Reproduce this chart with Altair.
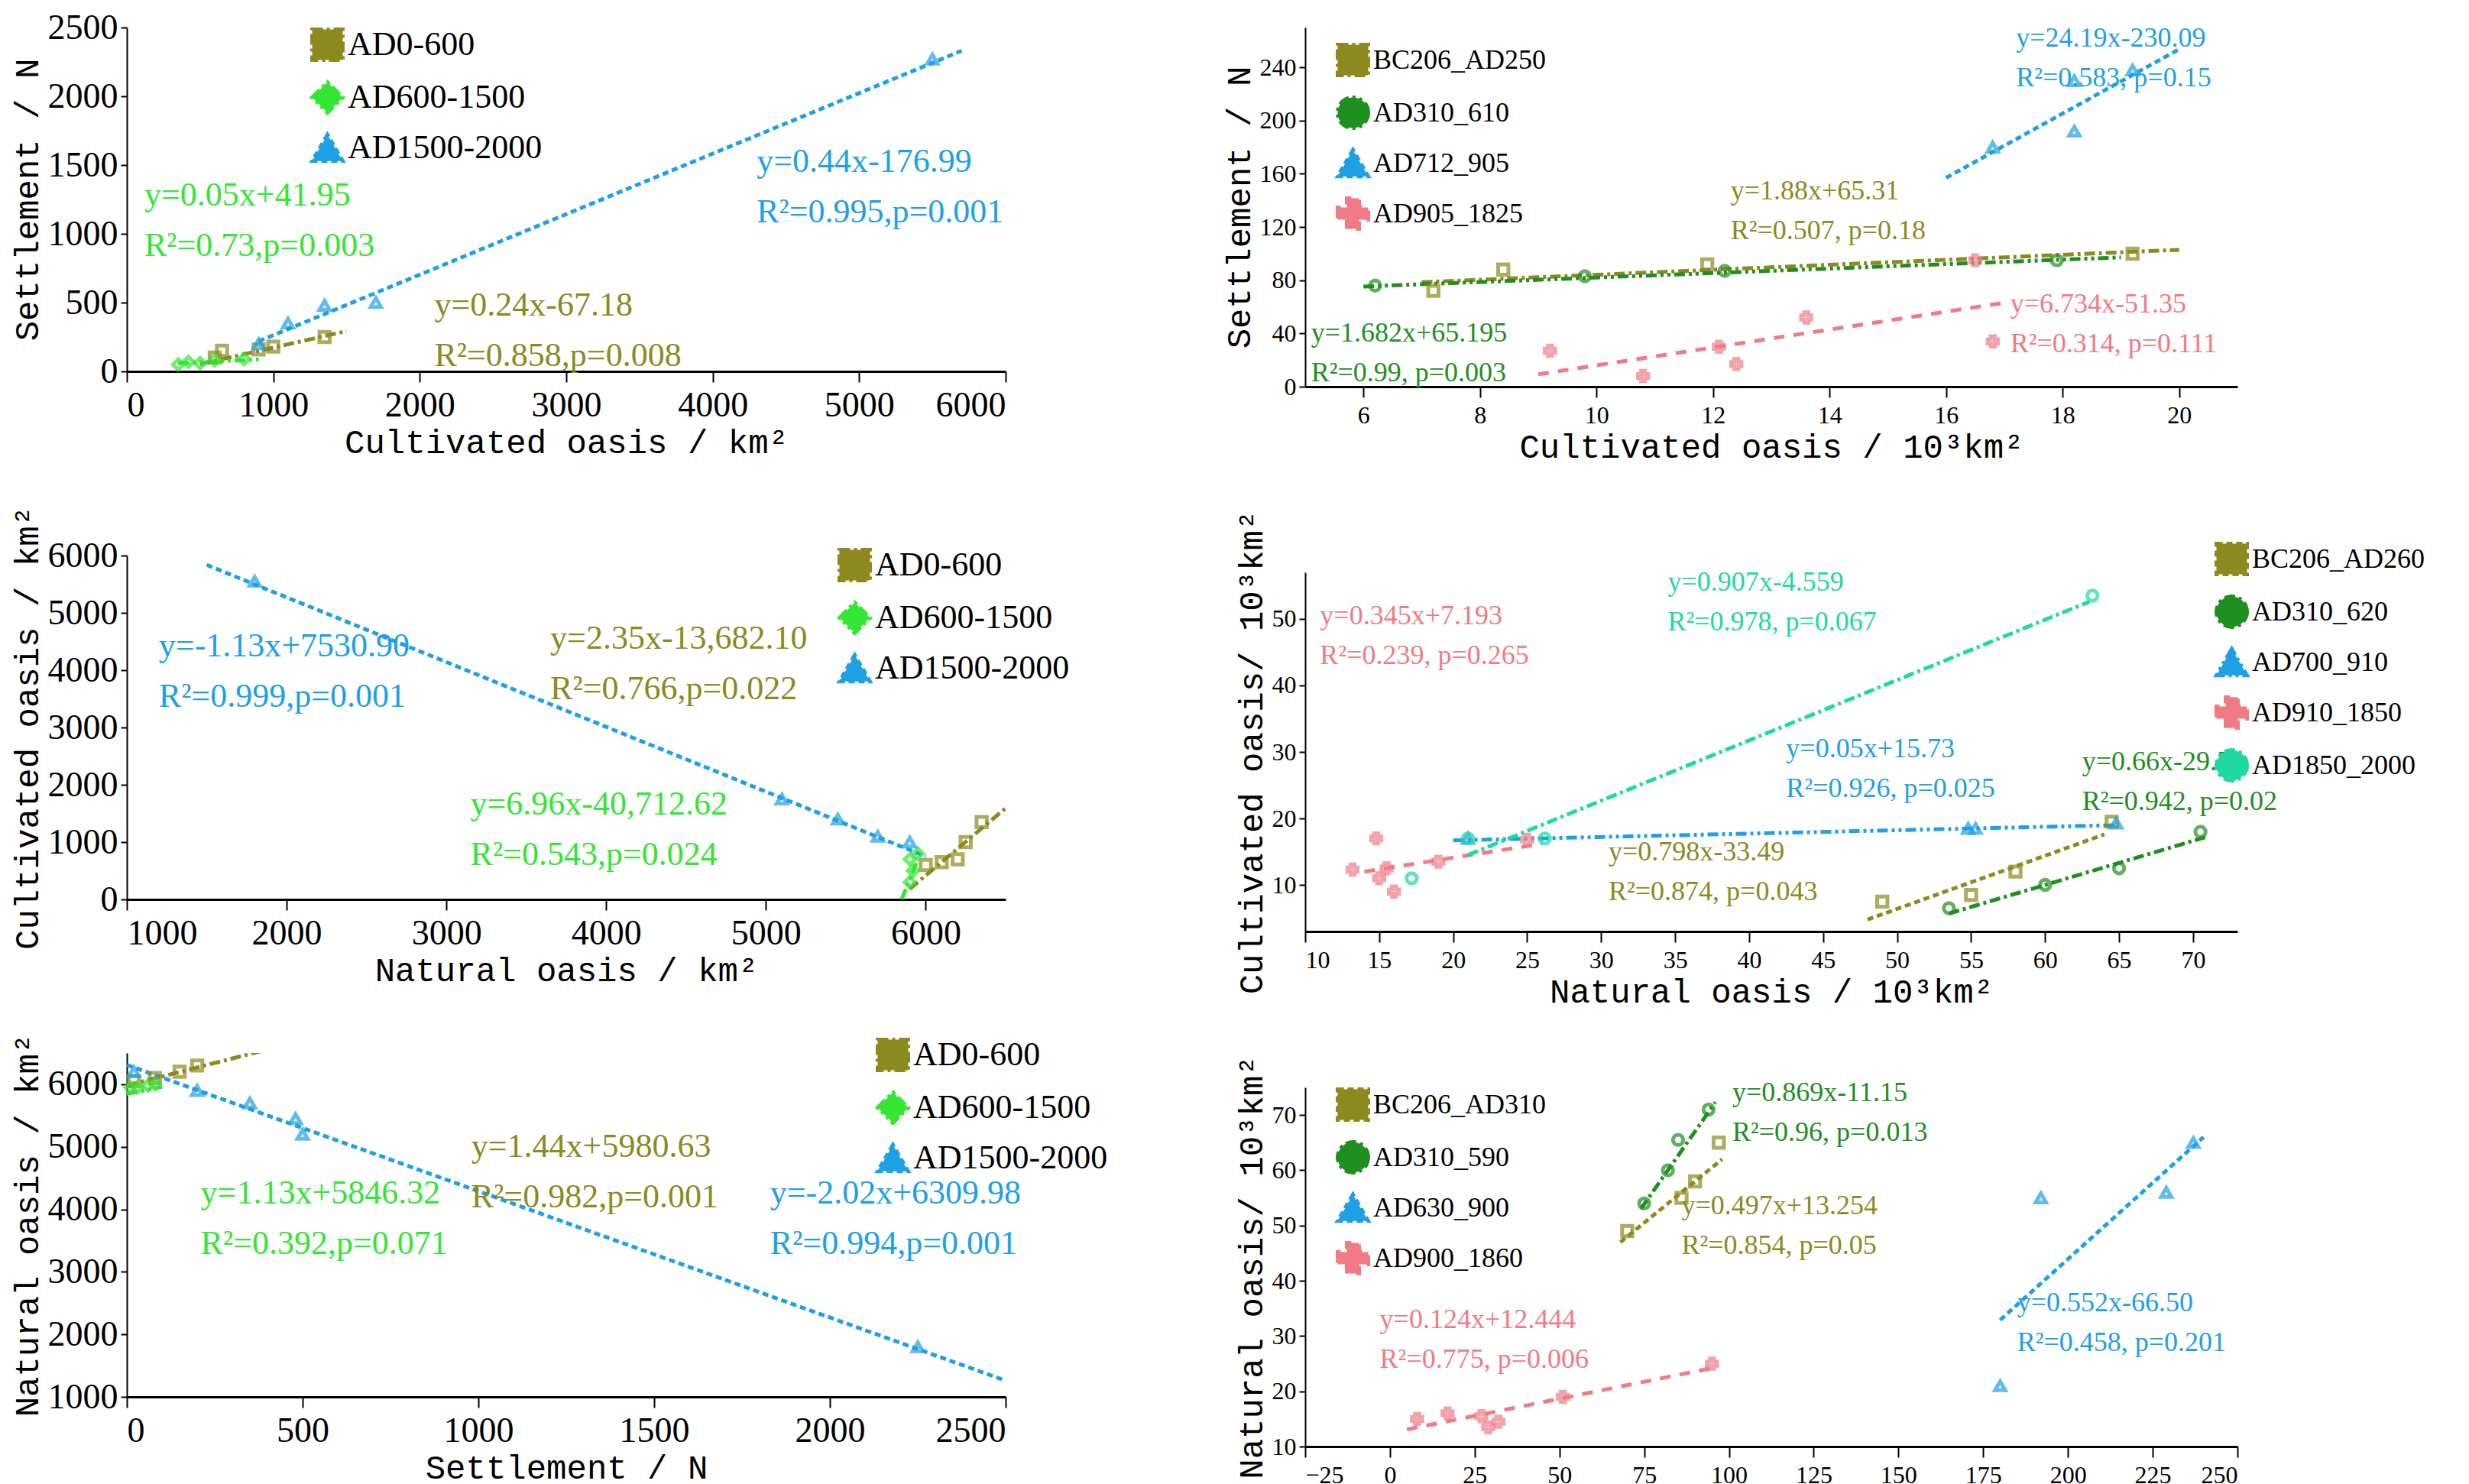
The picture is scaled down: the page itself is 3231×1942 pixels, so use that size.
import altair as alt
import pandas as pd

OL, GR, BL = "#8c8a1e", "#33e633", "#1ea0e6"
GR2, PK, TL = "#1f8f1f", "#f07a85", "#1ed9a0"
DD = [14, 5, 4, 5]; DDD = [14, 5, 4, 5, 4, 5]; DS = [8, 5]; DP = [14, 12]

# ---------- Panel 1: cultivated vs settlement (left)
p1_px = [[600, 650, 900, 1000, 1350], [350, 420, 500, 600, 800], [900, 1100, 1350, 1700, 5500]]
p1_py = [[100, 150, 160, 180, 250], [50, 70, 60, 80, 90], [200, 350, 480, 500, 2270]]
p1_lx = [[500, 1500], [350, 900], [900, 5700]]
p1_ly = [[52.8, 292.8], [59.5, 87], [219, 2331]]
p1_txt = [["y=0.24x-67.18", "R²=0.858,p=0.008"], ["y=0.05x+41.95", "R²=0.73,p=0.003"], ["y=0.44x-176.99", "R²=0.995,p=0.001"]]
p1_tpos = [(2100, 480), (120, 1280), (4300, 1520)]

# ---------- Panel 2: natural vs cultivated (left)
p2_px = [[6000, 6100, 6200, 6250, 6350], [5900, 5900, 5950, 5920], [1800, 5100, 5450, 5700, 5900]]
p2_py = [[600, 650, 700, 1000, 1350], [300, 700, 800, 500], [5550, 1750, 1400, 1100, 1000]]
p2_lx = [[5900, 6500], [5850, 5950], [1500, 6000]]
p2_ly = [[183, 1593], [4, 700], [5836, 750]]
p2_txt = [["y=2.35x-13,682.10", "R²=0.766,p=0.022"], ["y=6.96x-40,712.62", "R²=0.543,p=0.024"], ["y=-1.13x+7530.90", "R²=0.999,p=0.001"]]
p2_tpos = [(3650, 4550), (3150, 1650), (1200, 4420)]

# ---------- Panel 3: settlement vs natural (left)
p3_px = [[20, 80, 150, 200], [10, 30, 60, 80], [20, 200, 350, 480, 500, 2250]]
p3_py = [[6050, 6100, 6200, 6300], [5950, 5950, 5980, 6000], [6200, 5900, 5700, 5450, 5200, 1800]]
p3_lx = [[0, 380], [0, 100], [0, 2500]]
p3_ly = [[5981, 6528], [5846, 5959], [6310, 1260]]
p3_txt = [["y=1.44x+5980.63", "R²=0.982,p=0.001"], ["y=1.13x+5846.32", "R²=0.392,p=0.071"], ["y=-2.02x+6309.98", "R²=0.994,p=0.001"]]
p3_tpos = [(980, 5000), (210, 4250), (1830, 4250)]

# ---------- Panel 4 (right top)
p4_names = ["BC206_AD250", "AD310_610", "AD712_905", "AD905_1825"]
p4_px = [[7.2, 8.4, 11.9, 19.2], [6.2, 9.8, 12.2, 17.9], [16.8, 18.2, 18.2, 19.2], [9.2, 10.8, 12.1, 12.4, 13.6, 16.8, 16.5]]
p4_py = [[72, 88, 92, 100], [76, 83, 87, 95], [180, 230, 192, 238], [27, 8, 30, 17, 52, 34, 95]]
p4_lx = [[7, 20], [6, 19], [16, 20], [9, 17]]
p4_ly = [[78.5, 102.9], [75.3, 97.2], [157, 253.7], [9.3, 63.1]]
p4_txt = [["y=1.88x+65.31", "R²=0.507, p=0.18"], ["y=1.682x+65.195", "R²=0.99, p=0.003"], ["y=24.19x-230.09", "R²=0.583, p=0.15"], ["y=6.734x-51.35", "R²=0.314, p=0.111"]]
p4_tpos = [(12.3, 147), (5.1, 40), (17.2, 262), (17.1, 62)]

# ---------- Panel 5 (right middle)
p5_names = ["BC206_AD260", "AD310_620", "AD700_910", "AD910_1850", "AD1850_2000"]
p5_px = [[49, 55, 58, 64.5], [53.5, 60, 65, 70.5], [21, 54.8, 55.3, 64.8], [13.2, 14.8, 15, 15.5, 16, 19, 25], [17.2, 21, 26.2, 63.2]]
p5_py = [[7.5, 8.5, 12, 19.5], [6.5, 10, 12.5, 18], [17, 18.5, 18.5, 19.3], [12.3, 17, 11, 12.5, 9, 13.5, 16.8], [11, 17, 17, 53.5]]
p5_lx = [[48, 64], [53.5, 71], [20, 65], [14, 26], [21, 63]]
p5_ly = [[4.8, 17.6], [5.7, 17.3], [16.7, 19], [12, 16.2], [14.5, 52.6]]
p5_txt = [["y=0.798x-33.49", "R²=0.874, p=0.043"], ["y=0.66x-29.59", "R²=0.942, p=0.02"], ["y=0.05x+15.73", "R²=0.926, p=0.025"], ["y=0.345x+7.193", "R²=0.239, p=0.265"], ["y=0.907x-4.559", "R²=0.978, p=0.067"]]
p5_tpos = [(30.5, 15), (62.5, 28.5), (42.5, 30.5), (11, 50.5), (34.5, 55.5)]

# ---------- Panel 6 (right bottom)
p6_names = ["BC206_AD310", "AD310_590", "AD630_900", "AD900_1860"]
p6_px = [[70, 86, 90, 97], [75, 82, 85, 94], [180, 192, 229, 237], [8, 17, 27, 29, 32, 51, 95]]
p6_py = [[49, 55, 58, 65], [54, 60, 65.5, 71], [21, 55, 56, 65], [15, 16, 15.5, 13.5, 14.5, 19, 25]]
p6_lx = [[68, 98], [74, 96], [180, 240], [5, 95]]
p6_ly = [[47, 62], [53, 72.3], [32.9, 66], [13.1, 24.2]]
p6_txt = [["y=0.497x+13.254", "R²=0.854, p=0.05"], ["y=0.869x-11.15", "R²=0.96, p=0.013"], ["y=0.552x-66.50", "R²=0.458, p=0.201"], ["y=0.124x+12.444", "R²=0.775, p=0.006"]]
p6_tpos = [(86, 53.5), (101, 74), (185, 36), (-3, 33)]

SERIF = "Liberation Serif"
MONO = "Liberation Mono"


def panel(names, colors, dashes, shapes, px, py, lx, ly, txt, tpos, xdom, ydom, xt, yt,
          xticks, yticks, w, h, fs, tfs, lfs, legxy, tsp):
    pts, lines, t1, t2 = [], [], [], []
    for i, n in enumerate(names):
        for a, b in zip(px[i], py[i]):
            pts.append({"p": n, "x": a, "y": b})
        for a, b in zip(lx[i], ly[i]):
            lines.append({"s": n, "x": a, "y": b})
        t1.append({"q": n, "x": tpos[i][0], "y": tpos[i][1], "t": txt[i][0]})
        t2.append({"q": n, "x": tpos[i][0], "y": tpos[i][1], "t": txt[i][1]})
    xs = alt.Scale(domain=xdom, nice=False, zero=False)
    ys = alt.Scale(domain=ydom, nice=False, zero=False)
    cs = alt.Scale(domain=names, range=colors)
    common = dict(grid=False, labelFont=SERIF, labelFontSize=fs, format="d",
                  titleFont=MONO, titleFontSize=tfs, titleFontWeight="normal", domainColor="black",
                  tickColor="black", labelColor="black", titleColor="black", tickWidth=2)
    xax = alt.Axis(values=xticks, title=xt, domainWidth=3, tickSize=14, labelPadding=8, **common)
    yax = alt.Axis(values=yticks, title=yt, domainWidth=2, tickSize=8, labelPadding=4, **common)
    leg = dict(title=None, orient="none", legendX=legxy[0], legendY=legxy[1], labelFont=SERIF,
               labelFontSize=lfs, symbolType="stroke", symbolSize=1600, symbolStrokeWidth=5,
               labelColor="black", rowPadding=8, labelLimit=0)
    L = alt.Chart(pd.DataFrame(lines)).mark_line(strokeWidth=5, clip=True).encode(
        x=alt.X("x:Q", scale=xs, axis=xax), y=alt.Y("y:Q", scale=ys, axis=yax),
        color=alt.Color("s:N", scale=cs, legend=alt.Legend(**leg)),
        strokeDash=alt.StrokeDash("s:N", scale=alt.Scale(domain=names, range=dashes), legend=alt.Legend(**leg)),
        detail="s:N")
    P = alt.Chart(pd.DataFrame(pts)).mark_point(filled=False, size=180, strokeWidth=5).encode(
        x="x:Q", y="y:Q", color=alt.Color("p:N", scale=cs, legend=None),
        shape=alt.Shape("p:N", scale=alt.Scale(domain=names, range=shapes), legend=None))
    tk = dict(align="left", baseline="middle", font=SERIF, fontSize=lfs)
    T1 = alt.Chart(pd.DataFrame(t1)).mark_text(**tk).encode(
        x="x:Q", y="y:Q", text="t:N", color=alt.Color("q:N", scale=cs, legend=None))
    T2 = alt.Chart(pd.DataFrame(t2)).mark_text(dy=tsp, **tk).encode(
        x="x:Q", y="y:Q", text="t:N", color=alt.Color("q:N", scale=cs, legend=None))
    return (L + P + T1 + T2).properties(width=w, height=h)


LN = ["AD0-600", "AD600-1500", "AD1500-2000"]
LC = [OL, GR, BL]; LD = [DD, DDD, DS]; LS = ["square", "diamond", "triangle-up"]
a = dict(fs=46, tfs=44, lfs=44, w=1150, h=450, tsp=66)
c1 = panel(LN, LC, LD, LS, p1_px, p1_py, p1_lx, p1_ly, p1_txt, p1_tpos, [0, 6000], [0, 2500],
           "Cultivated oasis / km²", "Settlement / N", list(range(0, 6001, 1000)), list(range(0, 2501, 500)),
           legxy=(240, 0), **a)
c2 = panel(LN, LC, LD, LS, p2_px, p2_py, p2_lx, p2_ly, p2_txt, p2_tpos, [1000, 6500], [0, 6000],
           "Natural oasis / km²", "Cultivated oasis / km²", list(range(1000, 6001, 1000)), list(range(0, 6001, 1000)),
           legxy=(930, -10), **a)
c3 = panel(LN, LC, LD, LS, p3_px, p3_py, p3_lx, p3_ly, p3_txt, p3_tpos, [0, 2500], [1000, 6500],
           "Settlement / N", "Natural oasis / km²", list(range(0, 2501, 500)), list(range(1000, 6001, 1000)),
           legxy=(980, -20), **a)
b = dict(fs=32, tfs=44, lfs=36, w=1220, h=470, tsp=52)
c4 = panel(p4_names, [OL, GR2, BL, PK], [DD, DDD, DS, DP], ["square", "circle", "triangle-up", "cross"],
           p4_px, p4_py, p4_lx, p4_ly, p4_txt, p4_tpos, [5, 21], [0, 270],
           "Cultivated oasis / 10³km²", "Settlement / N", list(range(6, 21, 2)), list(range(0, 241, 40)),
           legxy=(40, 20), **b)
c5 = panel(p5_names, [OL, GR2, BL, PK, TL], [DS, DD, DDD, DP, DD], ["square", "circle", "triangle-up", "cross", "circle"],
           p5_px, p5_py, p5_lx, p5_ly, p5_txt, p5_tpos, [10, 73], [3, 57],
           "Natural oasis / 10³km²", "Cultivated oasis/ 10³km²", list(range(10, 71, 5)), list(range(10, 51, 10)),
           legxy=(1190, -40), **b)
c6 = panel(p6_names, [OL, GR2, BL, PK], [DS, DD, DS, DP], ["square", "circle", "triangle-up", "cross"],
           p6_px, p6_py, p6_lx, p6_ly, p6_txt, p6_tpos, [-25, 250], [10, 75],
           "Settlement / N", "Natural oasis/ 10³km²", list(range(-25, 251, 25)), list(range(10, 71, 10)),
           legxy=(40, 0), **b)

R = dict(color="independent", strokeDash="independent", shape="independent")
left = alt.vconcat(c1, c2, c3, spacing=60).resolve_scale(**R)
right = alt.vconcat(c4, c5, c6, spacing=60).resolve_scale(**R)
chart = alt.hconcat(left, right, spacing=150).resolve_scale(**R).configure_view(stroke=None).properties(background="white")
chart.save("out.html", embed_options={"renderer": "svg", "actions": False})
